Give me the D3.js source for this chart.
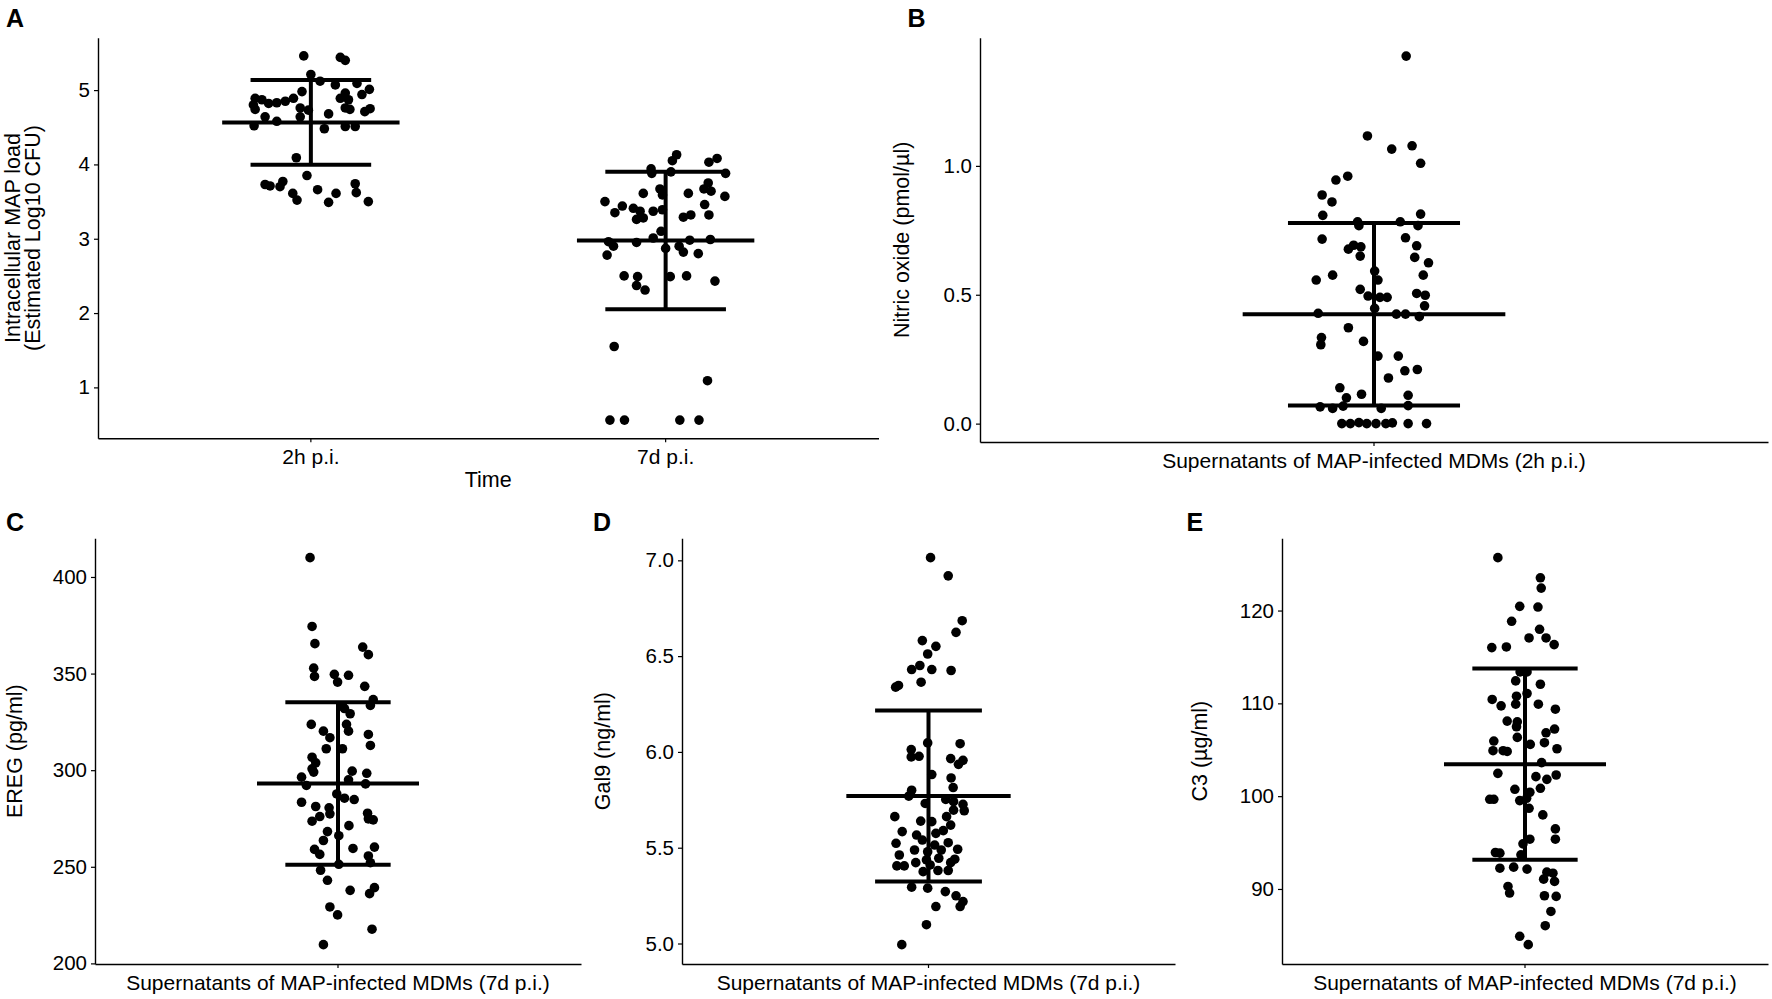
<!DOCTYPE html>
<html>
<head>
<meta charset="utf-8">
<script src="https://cdn.jsdelivr.net/npm/d3@7"></script>
<style>
  body { margin: 0; background: #fff; }
  svg { display: block; background: #fff; }
</style>
</head>
<body>
<div id="figure"></div>
<script>
// ---- data ----
// jitter = horizontal offset of each dot, in category units

// A: intracellular MAP load
const mapCategories = ['2h p.i.', '7d p.i.'];
const map2hValues = [5.46,5.44,5.40,5.21,5.12,5.07,5.09,5.01,4.98,4.89,4.85,4.83,4.82,4.87,4.89,4.80,4.74,4.64,4.58,4.52,4.76,4.64,4.73,4.68,4.89,4.96,4.87,4.94,4.76,4.74,4.71,4.75,4.48,4.51,4.51,4.09,3.85,3.73,3.71,3.70,3.77,3.61,3.52,3.66,3.61,3.49,3.74,3.62,3.50];
const map2hJitter = [-0.02,0.083,0.097,0.0,0.026,0.069,0.13,0.165,-0.025,-0.049,-0.072,-0.096,-0.119,-0.138,-0.157,-0.162,-0.157,-0.129,-0.096,-0.16,-0.03,-0.03,-0.007,0.05,0.083,0.097,0.106,0.144,0.097,0.11,0.152,0.167,0.038,0.097,0.125,-0.041,-0.011,-0.129,-0.115,-0.087,-0.079,-0.051,-0.039,0.019,0.071,0.05,0.125,0.128,0.162];
const map7dValues = [4.13,4.05,4.03,4.08,3.94,3.88,3.90,3.88,3.67,3.59,3.61,3.61,3.75,3.67,3.64,3.57,3.50,3.35,3.44,3.41,3.37,3.26,3.28,3.37,3.39,3.29,3.32,3.46,3.32,3.10,3.01,2.96,2.90,2.78,2.95,2.87,2.90,2.98,2.82,2.80,2.99,2.50,2.49,2.37,2.31,2.49,2.50,2.43,1.55,1.09,0.56,0.56,0.56,0.56];
const map7dJitter = [0.031,0.019,0.122,0.145,-0.041,-0.039,0.015,0.169,-0.016,-0.009,-0.063,0.064,0.12,0.108,0.128,0.167,-0.171,-0.143,-0.122,-0.091,-0.072,-0.082,-0.063,-0.035,-0.009,0.05,0.071,0.11,0.122,-0.013,-0.035,-0.161,-0.147,-0.165,-0.082,0.0,0.038,0.068,0.05,0.092,0.126,-0.117,-0.079,-0.082,-0.058,0.013,0.059,0.139,-0.145,0.118,-0.157,-0.116,0.04,0.094];
const mapMeans = [4.565, 2.975];
const mapSds = [0.57, 0.925];
const mapTicks = [1, 2, 3, 4, 5];

// B: nitric oxide
const noCategories = ['Supernatants of MAP-infected MDMs (2h p.i.)'];
const noValues = [1.426,1.116,1.065,1.078,1.010,0.960,0.945,0.887,0.860,0.808,0.813,0.783,0.768,0.783,0.768,0.716,0.721,0.690,0.692,0.677,0.686,0.650,0.645,0.624,0.557,0.576,0.592,0.557,0.576,0.521,0.495,0.490,0.490,0.505,0.498,0.457,0.447,0.428,0.425,0.425,0.415,0.372,0.334,0.306,0.319,0.262,0.262,0.205,0.210,0.177,0.139,0.100,0.114,0.110,0.065,0.059,0.068,0.059,0.070,0,0,0.004,0,0,0,0.003,0,0];
const noJitter = [0.049,-0.010,0.027,0.058,0.071,-0.040,-0.058,-0.079,-0.064,-0.078,0.071,-0.025,-0.023,0.040,0.067,-0.079,0.048,0.065,-0.031,-0.039,-0.020,-0.021,0.062,0.083,-0.088,-0.063,0.001,0.006,0.075,-0.021,-0.009,0.009,0.020,0.065,0.078,0.077,0.001,-0.085,0.034,0.048,0.069,-0.039,-0.080,-0.081,-0.016,0.006,0.037,0.047,0.066,0.022,-0.052,-0.042,-0.019,0.052,-0.082,-0.063,-0.047,0.011,0.052,-0.049,-0.036,-0.023,-0.011,0.003,0.018,0.028,0.052,0.080];
const noMean = 0.424, noSd = 0.354;
const noTicks = [0.0, 0.5, 1.0];

// C: EREG
const eregCategories = ['Supernatants of MAP-infected MDMs (7d p.i.)'];
const eregValues = [410.0,374.4,365.5,363.7,359.8,352.8,348.5,349.6,345.6,349.1,343.4,336.5,333.5,333.0,329.2,331.9,323.7,323.7,320.2,320.2,316.8,318.5,312.8,311.1,311.1,306.7,303.8,300.7,299.0,299.5,298.4,296.4,292.1,295.0,292.9,287.7,285.5,284.8,283.4,281.2,280.5,277.4,276.0,273.6,277.7,274.8,274.3,271.3,263.6,268.2,266.1,259.0,256.4,259.5,260.2,255.6,252.1,251.3,248.2,243.0,237.8,236.1,239.2,229.2,225.1,217.7,209.7];
const eregJitter = [-0.069,-0.064,-0.057,0.061,0.075,-0.060,-0.058,-0.009,-0.001,0.026,0.066,0.087,0.080,0.011,0.030,0.016,-0.066,0.021,0.026,-0.036,-0.020,0.075,0.080,-0.029,0.011,-0.064,-0.055,-0.064,-0.060,0.035,0.071,-0.090,-0.078,0.026,0.068,-0.003,0.016,0.040,-0.090,-0.055,-0.022,-0.020,-0.045,-0.064,0.073,0.075,0.087,0.027,-0.036,-0.026,0.002,-0.058,-0.045,0.037,0.090,0.075,0.080,0.002,-0.043,-0.026,0.030,0.078,0.090,-0.020,-0.001,0.084,-0.036];
const eregMean = 293.1, eregSd = 42.1;
const eregTicks = [200, 250, 300, 350, 400];

// D: Gal9
const gal9Categories = ['Supernatants of MAP-infected MDMs (7d p.i.)'];
const gal9Values = [7.014,6.919,6.685,6.624,6.581,6.551,6.511,6.451,6.430,6.430,6.425,6.364,6.338,6.347,6.047,6.043,6.012,5.974,5.977,5.965,5.935,5.956,5.882,5.864,5.814,5.800,5.769,5.731,5.752,5.740,5.726,5.696,5.693,5.662,5.639,5.636,5.662,5.618,5.584,5.566,5.575,5.589,5.540,5.523,5.514,5.526,5.488,5.479,5.488,5.492,5.462,5.445,5.422,5.436,5.440,5.422,5.405,5.405,5.410,5.375,5.381,5.381,5.294,5.289,5.271,5.249,5.219,5.193,5.193,5.098,4.994];
const gal9Jitter = [0.005,0.048,0.082,0.067,-0.015,0.018,-0.002,-0.021,-0.041,0.008,0.055,-0.018,-0.080,-0.073,-0.002,0.077,-0.042,-0.042,-0.023,0.054,0.073,0.084,0.008,0.055,0.060,-0.041,-0.048,-0.008,0.042,0.061,0.084,0.061,0.087,-0.082,-0.019,0.008,0.044,0.054,-0.064,-0.029,0.018,0.036,-0.015,-0.079,0.015,0.048,-0.034,-0.002,0.031,0.071,-0.071,0.025,-0.031,-0.005,0.064,0.054,-0.077,-0.059,0.004,-0.013,0.023,0.048,-0.041,-0.002,0.041,0.067,0.084,0.077,0.018,-0.005,-0.065];
const gal9Mean = 5.77, gal9Sd = 0.4465;
const gal9Ticks = [5.0, 5.5, 6.0, 6.5, 7.0];

// E: C3
const c3Categories = ['Supernatants of MAP-infected MDMs (7d p.i.)'];
const c3Values = [125.7,123.53,122.42,120.45,120.38,118.84,117.98,117.05,117.05,116.33,116.01,116.08,113.39,113.39,112.42,112.06,110.77,111.06,110.42,109.73,109.91,109.91,109.37,108.09,108.01,107.48,107.23,106.83,106.33,105.94,104.90,104.90,104.82,105.58,105.76,105.11,103.61,102.46,102.10,101.81,102.28,100.74,100.42,100.85,99.66,99.66,99.52,99.77,98.69,97.98,96.47,95.36,95.36,94.86,93.93,93.86,93.68,92.24,92.35,92.14,91.81,91.70,91.06,90.81,90.27,89.56,89.27,89.20,87.58,86.04,84.90,84.00];
const c3Jitter = [-0.067,0.038,0.040,-0.013,0.032,-0.033,0.036,0.010,0.052,0.072,-0.082,-0.046,-0.012,0.005,-0.023,0.038,-0.021,0.005,-0.081,-0.059,-0.023,0.033,0.075,-0.044,-0.019,-0.021,0.073,0.052,-0.019,-0.077,-0.079,-0.054,-0.044,0.013,0.048,0.079,0.041,-0.067,0.027,0.054,0.077,-0.025,0.012,0.038,-0.087,-0.077,-0.013,0.004,0.010,0.044,0.075,0.075,0.012,-0.005,-0.073,-0.062,-0.010,-0.062,-0.028,0.005,0.054,0.069,0.046,0.073,-0.042,-0.038,0.048,0.077,0.064,0.050,-0.013,0.008];
const c3Mean = 103.45, c3Sd = 10.3;
const c3Ticks = [90, 100, 110, 120];

// ---- layout ----
const width = 1772;
const height = 999;
const FONT = '"Liberation Sans", Arial, Helvetica, sans-serif';

const panels = [
    { letter: 'A', letterX: 6, letterY: 27,
      left: 98, right: 878.5, top: 37.7, bottom: 438.3,
      categories: mapCategories,
      groups: [
          { values: map2hValues, jitter: map2hJitter, mean: mapMeans[0], sd: mapSds[0] },
          { values: map7dValues, jitter: map7dJitter, mean: mapMeans[1], sd: mapSds[1] }
      ],
      ticks: mapTicks, format: d3.format('d'),
      yTitle: ['Intracellular MAP load', '(Estimated Log10 CFU)'], yTitleX: [14, 34],
      xTitle: 'Time', capHalf: 0.17, meanHalf: 0.25 },
    { letter: 'B', letterX: 907.5, letterY: 27,
      left: 980, right: 1768, top: 37.7, bottom: 442,
      categories: noCategories,
      groups: [{ values: noValues, jitter: noJitter, mean: noMean, sd: noSd }],
      ticks: noTicks, format: d3.format('.1f'),
      yTitle: ['Nitric oxide (pmol/µl)'], yTitleX: [903],
      capHalf: 0.131, meanHalf: 0.2 },
    { letter: 'C', letterX: 6, letterY: 531,
      left: 95, right: 581, top: 538.3, bottom: 964,
      categories: eregCategories,
      groups: [{ values: eregValues, jitter: eregJitter, mean: eregMean, sd: eregSd }],
      ticks: eregTicks, format: d3.format('d'),
      yTitle: ['EREG (pg/ml)'], yTitleX: [16],
      capHalf: 0.13, meanHalf: 0.2 },
    { letter: 'D', letterX: 593, letterY: 531,
      left: 682, right: 1175, top: 538.3, bottom: 964,
      categories: gal9Categories,
      groups: [{ values: gal9Values, jitter: gal9Jitter, mean: gal9Mean, sd: gal9Sd }],
      ticks: gal9Ticks, format: d3.format('.1f'),
      yTitle: ['Gal9 (ng/ml)'], yTitleX: [604],
      capHalf: 0.13, meanHalf: 0.2 },
    { letter: 'E', letterX: 1186.5, letterY: 531,
      left: 1282, right: 1768, top: 538.3, bottom: 964,
      categories: c3Categories,
      groups: [{ values: c3Values, jitter: c3Jitter, mean: c3Mean, sd: c3Sd }],
      ticks: c3Ticks, format: d3.format('d'),
      yTitle: ['C3 (µg/ml)'], yTitleX: [1201],
      capHalf: 0.13, meanHalf: 0.2 }
];

const svg = d3.select('#figure')
    .append('svg')
    .attr('width', width)
    .attr('height', height)
    .attr('font-family', FONT);

function drawPanel(p) {
    // ggplot-like discrete axis: positions 1..n inside [0.4, n + 0.6]
    const x = d3.scaleBand()
        .domain(p.categories)
        .range([p.left, p.right])
        .paddingInner(0)
        .paddingOuter(0.1);

    // continuous axis with the default 5% expansion around the data
    const all = p.groups.flatMap(g => g.values);
    const [lo, hi] = d3.extent(all);
    const pad = (hi - lo) * 0.05;
    const y = d3.scaleLinear()
        .domain([lo - pad, hi + pad])
        .range([p.bottom, p.top]);

    const g = svg.append('g');

    // y axis
    const gy = g.append('g')
        .attr('transform', `translate(${p.left},0)`)
        .call(d3.axisLeft(y).tickValues(p.ticks).tickFormat(p.format)
            .tickSize(4).tickSizeOuter(0).tickPadding(4));
    gy.attr('font-family', FONT).attr('font-size', 20.5);
    gy.selectAll('text').attr('fill', '#000');
    gy.selectAll('line').attr('stroke', '#000').attr('stroke-width', 1.2);
    gy.select('.domain').attr('stroke', '#000').attr('stroke-width', 1.4);

    // x axis
    const gx = g.append('g')
        .attr('transform', `translate(0,${p.bottom})`)
        .call(d3.axisBottom(x).tickSize(4).tickSizeOuter(0).tickPadding(7));
    gx.attr('font-family', FONT).attr('font-size', 21);
    gx.selectAll('text').attr('fill', '#000');
    gx.selectAll('line').attr('stroke', '#000').attr('stroke-width', 1.2);
    gx.select('.domain').attr('stroke', '#000').attr('stroke-width', 1.4);

    // y title (one or two lines)
    const midY = (p.top + p.bottom) / 2;
    p.yTitle.forEach((t, i) => {
        g.append('text')
            .attr('transform', `translate(${p.yTitleX[i]},${midY}) rotate(-90)`)
            .attr('text-anchor', 'middle')
            .attr('dy', '0.26em')
            .attr('font-size', 21.5)
            .attr('fill', '#000')
            .text(t);
    });

    // x title
    if (p.xTitle) {
        g.append('text')
            .attr('x', (p.left + p.right) / 2)
            .attr('y', p.bottom + 49)
            .attr('text-anchor', 'middle')
            .attr('font-size', 21.5)
            .attr('fill', '#000')
            .text(p.xTitle);
    }

    // panel letter
    svg.append('text')
        .attr('x', p.letterX)
        .attr('y', p.letterY)
        .attr('font-size', 25)
        .attr('font-weight', 'bold')
        .attr('fill', '#000')
        .text(p.letter);

    const step = x.step();
    p.groups.forEach((grp, i) => {
        const cx = x(p.categories[i]) + x.bandwidth() / 2;
        const pts = grp.values.map((v, k) => ({ v, j: grp.jitter[k] }));

        // jittered dots
        g.selectAll(null)
            .data(pts)
            .join('circle')
            .attr('cx', d => cx + d.j * step)
            .attr('cy', d => y(d.v))
            .attr('r', 4.8)
            .attr('fill', '#000');

        // mean +/- sd
        const up = y(grp.mean + grp.sd);
        const dn = y(grp.mean - grp.sd);
        const m = y(grp.mean);
        const bars = [
            [cx, up, cx, dn],
            [cx - p.capHalf * step, up, cx + p.capHalf * step, up],
            [cx - p.capHalf * step, dn, cx + p.capHalf * step, dn],
            [cx - p.meanHalf * step, m, cx + p.meanHalf * step, m]
        ];
        g.selectAll(null)
            .data(bars)
            .join('line')
            .attr('x1', d => d[0])
            .attr('y1', d => d[1])
            .attr('x2', d => d[2])
            .attr('y2', d => d[3])
            .attr('stroke', '#000')
            .attr('stroke-width', 4);
    });
}

panels.forEach(drawPanel);
</script>
</body>
</html>
